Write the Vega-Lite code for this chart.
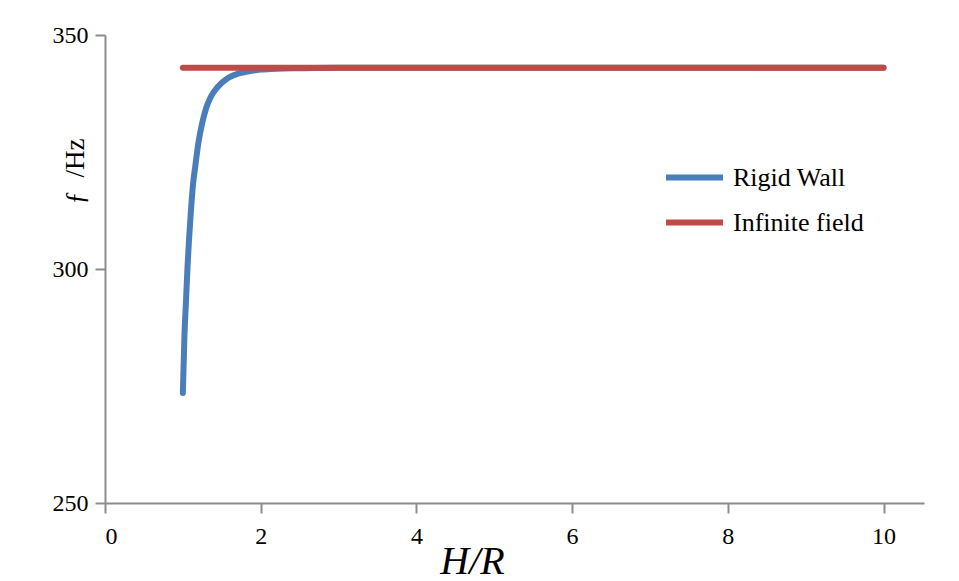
{
  "$schema": "https://vega.github.io/schema/vega-lite/v6.json",
  "autosize": "none",
  "width": 819,
  "height": 468,
  "padding": {"left": 105, "top": 35, "right": 35, "bottom": 78},
  "background": "white",
  "config": {
    "view": {"stroke": null},
    "font": "Liberation Serif, Times New Roman, serif",
    "axis": {"labelFont": "Liberation Serif, Times New Roman, serif", "titleFont": "Liberation Serif, Times New Roman, serif"},
    "legend": {"labelFont": "Liberation Serif, Times New Roman, serif"}
  },
  "data": {
    "values": [
      {"hr": 1.0, "f": 273.5, "series": "Rigid Wall"},
      {"hr": 1.02, "f": 285.5, "series": "Rigid Wall"},
      {"hr": 1.04, "f": 293.0, "series": "Rigid Wall"},
      {"hr": 1.06, "f": 300.5, "series": "Rigid Wall"},
      {"hr": 1.08, "f": 306.5, "series": "Rigid Wall"},
      {"hr": 1.1, "f": 311.5, "series": "Rigid Wall"},
      {"hr": 1.13, "f": 318.0, "series": "Rigid Wall"},
      {"hr": 1.16, "f": 322.0, "series": "Rigid Wall"},
      {"hr": 1.2, "f": 327.0, "series": "Rigid Wall"},
      {"hr": 1.25, "f": 331.3, "series": "Rigid Wall"},
      {"hr": 1.3, "f": 334.4, "series": "Rigid Wall"},
      {"hr": 1.35, "f": 336.5, "series": "Rigid Wall"},
      {"hr": 1.4, "f": 337.9, "series": "Rigid Wall"},
      {"hr": 1.5, "f": 339.8, "series": "Rigid Wall"},
      {"hr": 1.6, "f": 341.0, "series": "Rigid Wall"},
      {"hr": 1.7, "f": 341.7, "series": "Rigid Wall"},
      {"hr": 1.8, "f": 342.1, "series": "Rigid Wall"},
      {"hr": 1.9, "f": 342.4, "series": "Rigid Wall"},
      {"hr": 2.0, "f": 342.6, "series": "Rigid Wall"},
      {"hr": 2.2, "f": 342.8, "series": "Rigid Wall"},
      {"hr": 2.5, "f": 342.9, "series": "Rigid Wall"},
      {"hr": 3.0, "f": 343.0, "series": "Rigid Wall"},
      {"hr": 4.0, "f": 343.0, "series": "Rigid Wall"},
      {"hr": 6.0, "f": 343.0, "series": "Rigid Wall"},
      {"hr": 8.0, "f": 343.0, "series": "Rigid Wall"},
      {"hr": 10.0, "f": 343.0, "series": "Rigid Wall"},
      {"hr": 1.0, "f": 343.0, "series": "Infinite field"},
      {"hr": 10.0, "f": 343.0, "series": "Infinite field"}
    ]
  },
  "mark": {"type": "line", "strokeWidth": 6, "strokeCap": "round", "strokeJoin": "round", "interpolate": "monotone"},
  "encoding": {
    "x": {
      "field": "hr", "type": "quantitative",
      "scale": {"domain": [0, 10.52], "nice": false, "zero": false},
      "axis": {
        "title": "H/R", "titleFontStyle": "italic", "titleFontWeight": "normal",
        "titleFontSize": 40, "titleColor": "black", "titleAlign": "center", "titleBaseline": "alphabetic",
        "titleX": 367, "titleY": 70,
        "values": [0, 2, 4, 6, 8, 10], "grid": false,
        "domainColor": "#8c8c8c", "domainWidth": 2, "tickColor": "#8c8c8c", "tickWidth": 2, "tickSize": 10,
        "labelFontSize": 24, "labelColor": "black", "labelPadding": 11
      }
    },
    "y": {
      "field": "f", "type": "quantitative",
      "scale": {"domain": [250, 350], "nice": false, "zero": false},
      "axis": {
        "title": "ƒ\u00a0\u00a0/Hz", "titleFontWeight": "normal",
        "titleFontSize": 27, "titleColor": "black", "titleAlign": "center", "titleBaseline": "alphabetic",
        "titleAngle": -90, "titleX": -22, "titleY": 136,
        "values": [250, 300, 350], "grid": false,
        "domainColor": "#8c8c8c", "domainWidth": 2, "tickColor": "#8c8c8c", "tickWidth": 2, "tickSize": 10,
        "labelFontSize": 24, "labelColor": "black", "labelPadding": 7
      }
    },
    "color": {
      "field": "series", "type": "nominal",
      "sort": ["Rigid Wall", "Infinite field"],
      "scale": {"domain": ["Rigid Wall", "Infinite field"], "range": ["#4A7EBB", "#BE4B48"]},
      "legend": {
        "title": null, "orient": "none", "legendX": 558, "legendY": 111,
        "symbolType": "stroke", "symbolSize": 3249, "symbolStrokeWidth": 6,
        "labelFontSize": 26, "labelColor": "black", "labelOffset": 7,
        "rowPadding": -19
      }
    }
  }
}
